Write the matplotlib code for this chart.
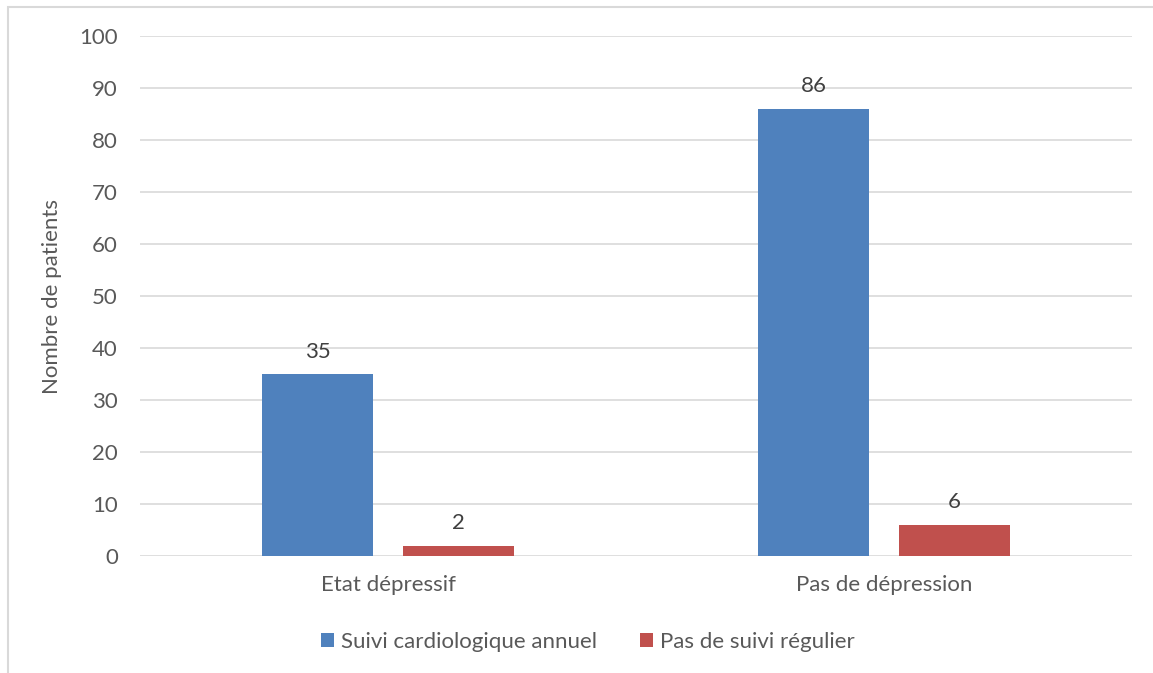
import numpy as np
import matplotlib
matplotlib.use("Agg")
import matplotlib.pyplot as plt
from matplotlib.patches import Rectangle

categories = ["Etat dépressif", "Pas de dépression"]
suivi_annuel = [35, 86]
pas_de_suivi = [2, 6]
series_names = ["Suivi cardiologique annuel", "Pas de suivi régulier"]
yticks = [0, 10, 20, 30, 40, 50, 60, 70, 80, 90, 100]

plt.rcParams["font.family"] = ["Lato", "DejaVu Sans"]
text_color = "#595959"
grid_color = "#D9D9D9"
blue, red = "#4F81BD", "#C0504D"
fs = 16

fig = plt.figure(figsize=(11.53, 6.73), dpi=100)
fig.patches.append(Rectangle((8 / 1153, -0.1), 1.2, 1.1 - 7 / 673,
                             transform=fig.transFigure, fill=False,
                             edgecolor="#D9D9D9", lw=1.5))
ax = fig.add_axes([140 / 1153, 1 - 556 / 673, 992 / 1153, 520 / 673])

x = np.arange(len(categories))
w, off = 0.224, 0.142
b1 = ax.bar(x - off, suivi_annuel, w, color=blue, label=series_names[0], zorder=3)
b2 = ax.bar(x + off, pas_de_suivi, w, color=red, label=series_names[1], zorder=3)
for bars in (b1, b2):
    for r in bars:
        ax.annotate(f"{r.get_height():g}", (r.get_x() + r.get_width() / 2, r.get_height()),
                    xytext=(0, 9), textcoords="offset points", ha="center", va="bottom",
                    fontsize=fs, color="#404040")

ax.set_xlim(-0.5, 1.5)
ax.set_ylim(0, 100)
ax.set_yticks(yticks)
ax.set_xticks(x, categories)
ax.grid(axis="y", color=grid_color, lw=1.2, zorder=0)
for s in ax.spines.values():
    s.set_visible(False)
ax.tick_params(axis="both", length=0, labelsize=fs, colors=text_color)
ax.tick_params(axis="y", pad=16)
ax.tick_params(axis="x", pad=14)
ax.set_ylabel("Nombre de patients", fontsize=fs, color=text_color, labelpad=12)

fig.legend(handles=[b1, b2], loc="center", bbox_to_anchor=(588 / 1153, 1 - 642 / 673),
           ncol=2, frameon=False, fontsize=fs, labelcolor=text_color,
           handlelength=0.58, handleheight=0.58, handletextpad=0.32, columnspacing=1.95)

fig.savefig("out.png", dpi=100)
